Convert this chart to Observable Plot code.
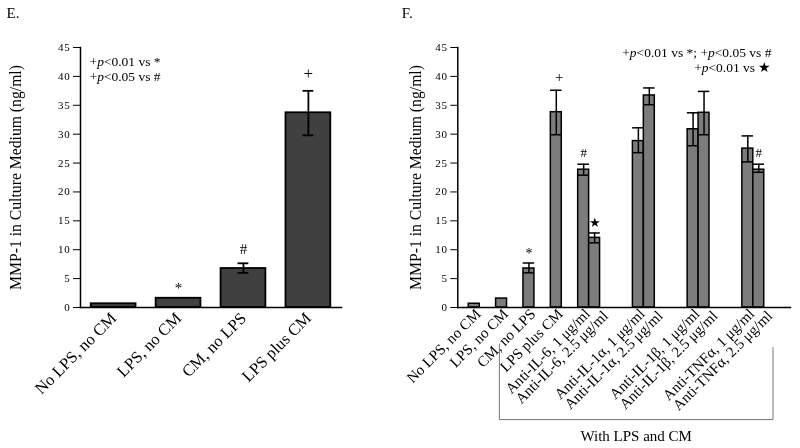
<!DOCTYPE html>
<html>
<head>
<meta charset="utf-8">
<script src="https://cdn.jsdelivr.net/npm/d3@7"></script>
<script src="https://cdn.jsdelivr.net/npm/@observablehq/plot@0.6"></script>
<style>
  body { margin: 0; background: #fff; }
  #wrap { display: flex; width: 800px; height: 448px; }
  #wrap svg { display: block; filter: grayscale(100%); }
  #wrap svg [aria-label="y-axis tick label"] text { letter-spacing: 0.8px; }
</style>
</head>
<body>
<div id="wrap"></div>
<script>
// ---------- data: panel E ----------
const categoriesE = ["No LPS, no CM", "LPS, no CM", "CM, no LPS", "LPS plus CM"];
const meansE = [0.65, 1.6, 6.75, 33.7];
const upperE = [null, null, 7.65, 37.5];
const lowerE = [null, null, 6.0, 29.8];
const marksE = ["", "*", "#", "+"];

// ---------- data: panel F ----------
const categoriesF = [
  "No LPS, no CM", "LPS, no CM", "CM, no LPS", "LPS plus CM",
  "Anti-IL-6, 1 μg/ml", "Anti-IL-6, 2.5 μg/ml",
  "Anti-IL-1α, 1 μg/ml", "Anti-IL-1α, 2.5 μg/ml",
  "Anti-IL-1β, 1 μg/ml", "Anti-IL-1β, 2.5 μg/ml",
  "Anti-TNFα, 1 μg/ml", "Anti-TNFα, 2.5 μg/ml"
];
const meansF = [0.65, 1.55, 6.75, 33.8, 23.85, 12.05, 28.8, 36.7, 30.85, 33.7, 27.5, 23.85];
const upperF = [null, null, 7.7, 37.6, 24.8, 12.9, 31.1, 38.0, 33.7, 37.4, 29.7, 24.8];
const lowerF = [null, null, 6.0, 29.9, 22.9, 11.2, 26.8, 35.1, 28.0, 29.9, 25.2, 23.4];
const marksF = ["", "", "*", "+", "#", "★", "", "", "", "", "", "#"];

// ---------- text ----------
const yTicks = [0, 5, 10, 15, 20, 25, 30, 35, 40, 45];
const yLabel = "MMP-1 in Culture Medium (ng/ml)";
const notesE = ["+p<0.01 vs *", "+p<0.05 vs #"];
const notesF = ["+p<0.01 vs *; +p<0.05 vs #", "+p<0.01 vs ★"];
const bracketLabel = "With LPS and CM";

const font = "'Liberation Serif', 'Times New Roman', serif";
const style = {fontFamily: font, fontSize: "11px", background: "white", color: "black"};

// ---------- panel E ----------
const rowsE = categoriesE.map((c, i) => ({label: c, mean: meansE[i], lo: lowerE[i], hi: upperE[i], mark: marksE[i]}));
const errE = rowsE.filter(d => d.hi != null);
const offE = {"*": -10, "#": -14, "+": -17};
const sizeE = {"*": 15, "#": 15, "+": 17};
const markTextE = Object.keys(offE).map(g =>
  Plot.text(rowsE.filter(d => d.mark === g), {x: "label", y: d => d.hi ?? d.mean, text: "mark", dy: offE[g], fontSize: sizeE[g], fill: "black"})
);

const plotE = Plot.plot({
  width: 400, height: 448,
  marginLeft: 80, marginRight: 59, marginTop: 47, marginBottom: 141,
  style,
  x: {type: "band", domain: categoriesE, paddingInner: 0.31, paddingOuter: 0.165, round: false, label: null},
  y: {domain: [0, 45], label: null},
  marks: [
    Plot.barY(rowsE, {x: "label", y: "mean", fill: "#404040", stroke: "black", strokeWidth: 1.8}),
    Plot.ruleX(errE, {x: "label", y1: "lo", y2: "hi", stroke: "black", strokeWidth: 1.8}),
    Plot.tickY(errE, {x: "label", y: "hi", stroke: "black", strokeWidth: 1.8, insetLeft: 17, insetRight: 17}),
    Plot.tickY(errE, {x: "label", y: "lo", stroke: "black", strokeWidth: 1.8, insetLeft: 17, insetRight: 17}),
    ...markTextE,
    Plot.frame({anchor: "left", strokeWidth: 1.5}),
    Plot.frame({anchor: "bottom", strokeWidth: 1.5}),
    Plot.axisY({ticks: yTicks, tickSize: 7, tickPadding: 3, fontSize: 11, label: null}),
    Plot.axisX({tickSize: 0, tickPadding: 8, tickRotate: -45, fontSize: 16.5, label: null}),
    Plot.text([yLabel], {frameAnchor: "left", rotate: -90, dx: -65, textAnchor: "middle", lineAnchor: "middle", fontSize: 15.7}),
    Plot.text(["E."], {frameAnchor: "top-left", dx: -74, dy: -34.5, textAnchor: "start", lineAnchor: "middle", fontSize: 15}),
    Plot.text([notesE[0]], {frameAnchor: "top-left", dx: 9, dy: 14, textAnchor: "start", lineAnchor: "middle", fontSize: 13.5, className: "pnote"}),
    Plot.text([notesE[1]], {frameAnchor: "top-left", dx: 9, dy: 29, textAnchor: "start", lineAnchor: "middle", fontSize: 13.5, className: "pnote"})
  ]
});

// ---------- panel F ----------
// layout: bars of the same antibody sit side by side; other bars are separated by a gap
const groupF = categoriesF.map(c => c.startsWith("Anti-") ? c.split(",")[0] : c);
const sizeF = d3.rollup(groupF, v => v.length, d => d);
const posF = [];
groupF.forEach((g, i) => {
  if (i === 0) posF.push(0);
  else if (g === groupF[i - 1]) posF.push(posF[i - 1] + 2);
  else posF.push(posF[i - 1] + 2 + 3 * Math.min(sizeF.get(g), sizeF.get(groupF[i - 1])));
});
const rowsF = categoriesF.map((c, i) => ({
  label: c, mean: meansF[i], lo: lowerF[i], hi: upperF[i], mark: marksF[i],
  x1: posF[i], x2: posF[i] + 2, xc: posF[i] + 1,
  second: i > 0 && groupF[i] === groupF[i - 1]
}));
const errF = rowsF.filter(d => d.hi != null);
const labelAt = new Map(rowsF.map(d => [d.xc, d.label]));
const offF = {"*": -9, "#": -11.5, "+": -13.5, "★": -10.5};
const sizeMF = {"*": 14, "#": 13, "+": 15, "★": 13};
const markTextF = Object.keys(offF).map(g =>
  Plot.text(rowsF.filter(d => d.mark === g), {x: "xc", y: d => d.hi ?? d.mean, text: "mark", dy: offF[g], dx: g === "+" ? 3 : 0, fontSize: sizeMF[g], fill: "black"})
);
const bL = rowsF[1].xc - 0.4;
const bR = rowsF[rowsF.length - 1].x2 + 1.6;
const bracket = [{x: bL, y: -6.3}, {x: bL, y: -19.4}, {x: bR, y: -19.4}, {x: bR, y: -6.9}];

const plotF = Plot.plot({
  width: 400, height: 448,
  marginLeft: 57.3, marginRight: 10, marginTop: 47, marginBottom: 141,
  style,
  x: {type: "linear", domain: [posF[0] - 2, posF[posF.length - 1] + 6.8], label: null},
  y: {domain: [0, 45], label: null},
  marks: [
    Plot.rectY(rowsF, {x1: "x1", x2: "x2", y1: 0, y2: "mean", fill: "#7c7c7c", stroke: "black", strokeWidth: 1.5}),
    Plot.ruleX(errF, {x: "xc", y1: "lo", y2: "hi", stroke: "black", strokeWidth: 1.5}),
    Plot.ruleY(errF, {x1: d => d.xc - 1.05, x2: d => d.xc + 1.05, y: "hi", stroke: "black", strokeWidth: 1.5}),
    Plot.ruleY(errF, {x1: "x1", x2: "x2", y: "lo", stroke: "black", strokeWidth: 1.5}),
    ...markTextF,
    Plot.frame({anchor: "left", strokeWidth: 1.5}),
    Plot.frame({anchor: "bottom", strokeWidth: 1.5}),
    Plot.axisY({ticks: yTicks, tickSize: 7, tickPadding: 3, fontSize: 11, label: null}),
    Plot.axisX({ticks: rowsF.filter(d => !d.second).map(d => d.xc), tickFormat: d => labelAt.get(d), tickSize: 0, tickPadding: 4, tickRotate: -45, fontSize: 15, dx: 4, label: null}),
    Plot.axisX({ticks: rowsF.filter(d => d.second).map(d => d.xc), tickFormat: d => labelAt.get(d), tickSize: 0, tickPadding: 4, tickRotate: -45, fontSize: 15, dx: 11, dy: 2, label: null}),
    Plot.line(bracket, {x: "x", y: "y", stroke: "#777", strokeWidth: 1}),
    Plot.text([bracketLabel], {x: (bL + bR) / 2, y: -22.3, fontSize: 15, fill: "black"}),
    Plot.text([yLabel], {frameAnchor: "left", rotate: -90, dx: -42, textAnchor: "middle", lineAnchor: "middle", fontSize: 15.7}),
    Plot.text(["F."], {frameAnchor: "top-left", dx: -56, dy: -34.5, textAnchor: "start", lineAnchor: "middle", fontSize: 15}),
    Plot.text([notesF[0]], {frameAnchor: "top-right", dx: -19, dy: 5, textAnchor: "end", lineAnchor: "middle", fontSize: 13.5, className: "pnote"}),
    Plot.text([notesF[1]], {frameAnchor: "top-right", dx: -19, dy: 20, textAnchor: "end", lineAnchor: "middle", fontSize: 13.5, className: "pnote"})
  ]
});

// italic "p" in the significance notes
function italicizeP(svg) {
  svg.querySelectorAll(".pnote text").forEach(t => {
    const s = t.textContent;
    const parts = s.split(/(?<=\+)p(?=<)/);
    if (parts.length < 2) return;
    t.textContent = "";
    const NS = "http://www.w3.org/2000/svg";
    parts.forEach((p, i) => {
      t.appendChild(document.createTextNode(p));
      if (i < parts.length - 1) {
        const ts = document.createElementNS(NS, "tspan");
        ts.setAttribute("font-style", "italic");
        ts.textContent = "p";
        t.appendChild(ts);
      }
    });
  });
}
italicizeP(plotE);
italicizeP(plotF);

const wrap = document.getElementById("wrap");
wrap.appendChild(plotE);
wrap.appendChild(plotF);
</script>
</body>
</html>
